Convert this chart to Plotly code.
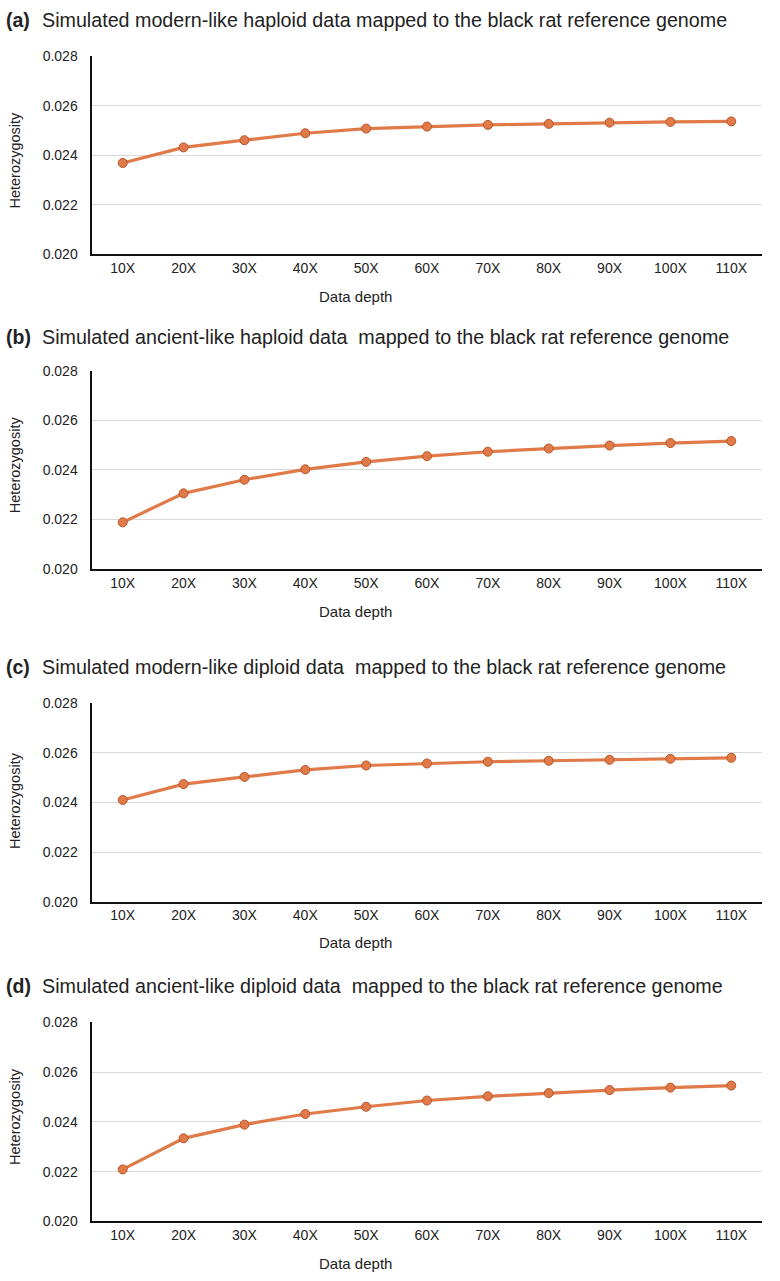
import plotly.graph_objects as go

depths = ["10X", "20X", "30X", "40X", "50X", "60X", "70X", "80X", "90X", "100X", "110X"]

modern_haploid = [0.02369, 0.02432, 0.02461, 0.02489, 0.02508, 0.02516, 0.02523, 0.02527, 0.02532, 0.02535, 0.02537]
ancient_haploid = [0.02188, 0.02305, 0.02360, 0.02402, 0.02432, 0.02455, 0.02473, 0.02486, 0.02498, 0.02508, 0.02516]
modern_diploid = [0.02410, 0.02474, 0.02503, 0.02531, 0.02549, 0.02557, 0.02564, 0.02568, 0.02572, 0.02576, 0.02580]
ancient_diploid = [0.02209, 0.02334, 0.02389, 0.02432, 0.02461, 0.02486, 0.02503, 0.02516, 0.02528, 0.02538, 0.02546]

panel_letters = ["(a)", "(b)", "(c)", "(d)"]
panel_titles = [
    "Simulated modern-like haploid data mapped to the black rat reference genome",
    "Simulated ancient-like haploid data\u00a0 mapped to the black rat reference genome",
    "Simulated modern-like diploid data\u00a0 mapped to the black rat reference genome",
    "Simulated ancient-like diploid data\u00a0 mapped to the black rat reference genome",
]
y_title = "Heterozygosity"
x_title = "Data depth"
y_ticks = [0.020, 0.022, 0.024, 0.026, 0.028]

series = [modern_haploid, ancient_haploid, modern_diploid, ancient_diploid]

W, H = 780, 1281
def py(p):
    return 1 - p / H

# pixel layout (top, bottom) of each plot area
plot_px = [(49, 249.3), (367.3, 568), (704, 905), (1027.3, 1228.7)]
title_px = [12, 333, 667, 990]
xtitle_px = [291.7, 611, 946.7, 1271.7]
ytitle_px = [154.5, 463, 803, 1123]
x0, x1 = 92.3 / W, 761.7 / W

FONT = "Liberation Sans, Arial, Helvetica, sans-serif"
LINE_COLOR = "#E07A48"
EDGE_COLOR = "#B8552B"
TXT = "#222222"

fig = go.Figure()
annotations = []
layout_axes = {}
for i, vals in enumerate(series):
    n = i + 1
    xa = "x" if n == 1 else f"x{n}"
    ya = "y" if n == 1 else f"y{n}"
    fig.add_trace(go.Scatter(
        x=depths, y=vals, xaxis=xa, yaxis=ya, mode="lines+markers",
        line=dict(color=LINE_COLOR, width=3.2),
        marker=dict(size=9, color=LINE_COLOR, line=dict(color=EDGE_COLOR, width=1)),
        showlegend=False, hoverinfo="x+y",
    ))
    top, bot = plot_px[i]
    xkey = "xaxis" if n == 1 else f"xaxis{n}"
    ykey = "yaxis" if n == 1 else f"yaxis{n}"
    layout_axes[xkey] = dict(
        domain=[x0, x1], anchor=ya, type="category",
        categoryorder="array", categoryarray=depths,
        range=[-0.5, len(depths) - 0.5],
        showgrid=False, zeroline=False,
        showline=True, linecolor="#111111", linewidth=1.6,
        ticks="", tickfont=dict(family=FONT, size=14, color=TXT),
        fixedrange=True,
    )
    layout_axes[ykey] = dict(
        domain=[py(bot), py(top)], anchor=xa,
        range=[0.020, 0.028], tickvals=y_ticks, tickformat=".3f",
        showgrid=True, gridcolor="#D9D9D9", gridwidth=1,
        zeroline=False, showline=True, linecolor="#111111", linewidth=1.6,
        ticks="", ticklabelstandoff=10,
        tickfont=dict(family=FONT, size=14, color=TXT),
        fixedrange=True,
    )
    annotations.append(dict(
        text="<b>" + panel_letters[i] + "</b>", x=4 / W, y=py(title_px[i]),
        xref="paper", yref="paper", xanchor="left", yanchor="middle",
        showarrow=False, font=dict(family=FONT, size=19.5, color=TXT),
    ))
    annotations.append(dict(
        text=panel_titles[i], x=40 / W, y=py(title_px[i]),
        xref="paper", yref="paper", xanchor="left", yanchor="middle",
        showarrow=False, font=dict(family=FONT, size=19.7, color=TXT),
    ))
    annotations.append(dict(
        text=x_title, x=355 / W, y=py(xtitle_px[i]),
        xref="paper", yref="paper", xanchor="center", yanchor="middle",
        showarrow=False, font=dict(family=FONT, size=15, color=TXT),
    ))
    annotations.append(dict(
        text=y_title, x=15 / W, y=py(ytitle_px[i]), textangle=-90,
        xref="paper", yref="paper", xanchor="center", yanchor="middle",
        showarrow=False, font=dict(family=FONT, size=14.5, color=TXT),
    ))

fig.update_layout(
    width=W, height=H,
    margin=dict(l=0, r=0, t=0, b=0),
    paper_bgcolor="white", plot_bgcolor="white",
    annotations=annotations,
    **layout_axes,
)

fig.write_html("out.html")
